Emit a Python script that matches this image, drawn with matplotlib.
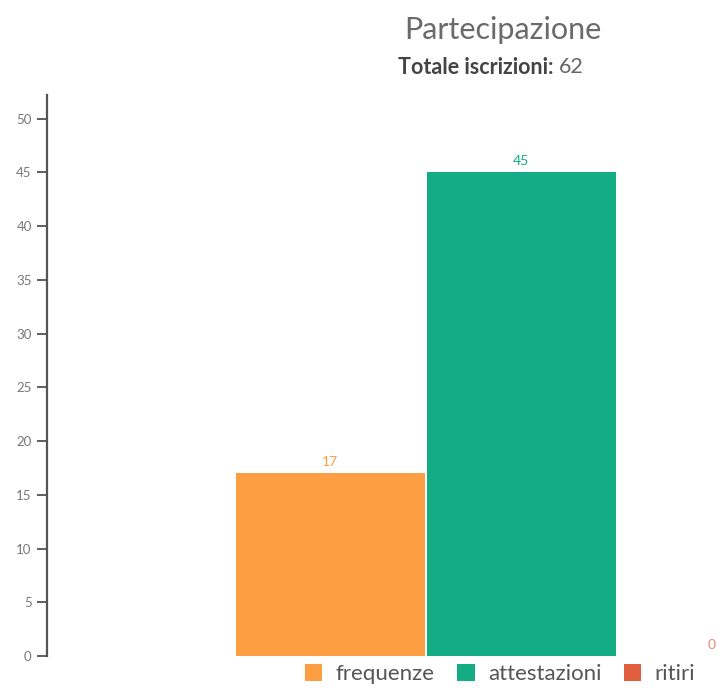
import matplotlib.pyplot as plt
import matplotlib

# dati
serie = ['frequenze', 'attestazioni', 'ritiri']
valori = [17, 45, 0]
colori = ['#FD9E42', '#13AC84', '#E15E3F']
totale = 62
yticks = [0, 5, 10, 15, 20, 25, 30, 35, 40, 45, 50]

matplotlib.rcParams['font.family'] = ['Lato', 'DejaVu Sans']

fig = plt.figure(figsize=(7.18, 6.89), dpi=100)
# asse: da x=47px fino al bordo destro, y da 656px a 95px
ax = fig.add_axes([47 / 718, 33 / 689, 671 / 718, 561 / 689])

pos = [-1, 0, 1]
bars = ax.bar(pos, valori, width=0.99, color=colori, label=serie, clip_on=True)
for x, v, c in zip(pos, valori, colori):
    ax.text(x, v + 0.5, str(v), ha='center', va='bottom', fontsize=10,
            color=c, alpha=0.75 if v == 0 else 1)

ax.set_xlim(-2.482, 1.031)
ax.set_ylim(0, 52.2)
ax.set_yticks(yticks)
ax.set_xticks([])
ax.spines['top'].set_visible(False)
ax.spines['right'].set_visible(False)
ax.spines['bottom'].set_visible(False)
ax.spines['left'].set_color('#555555')
ax.spines['left'].set_linewidth(1.6)
ax.tick_params(axis='y', length=7, width=1.2, color='#444444',
               labelsize=9.5, labelcolor='#777777', pad=4)

fig.text(503 / 718, 1 - 30 / 689, 'Partecipazione', ha='center', va='center',
         fontsize=22, color='#6a6a6a')
sub = fig.text(398 / 718, 1 - 67 / 689, 'Totale iscrizioni:', ha='left', va='center',
               fontsize=15.5, color='#444444', fontweight='bold')
ax.annotate(str(totale), xy=(1, 0.5), xycoords=sub, xytext=(4, 0),
            textcoords='offset points', ha='left', va='center',
            fontsize=15.5, color='#666666', annotation_clip=False)

fig.legend(handles=bars, labels=serie, loc='lower center',
           bbox_to_anchor=(500 / 718, -0.022), ncol=3, frameon=False,
           fontsize=16, handlelength=0.8, handleheight=0.8, handletextpad=0.6,
           columnspacing=1.0, labelcolor='#555555')

fig.savefig('out.png', dpi=100)
